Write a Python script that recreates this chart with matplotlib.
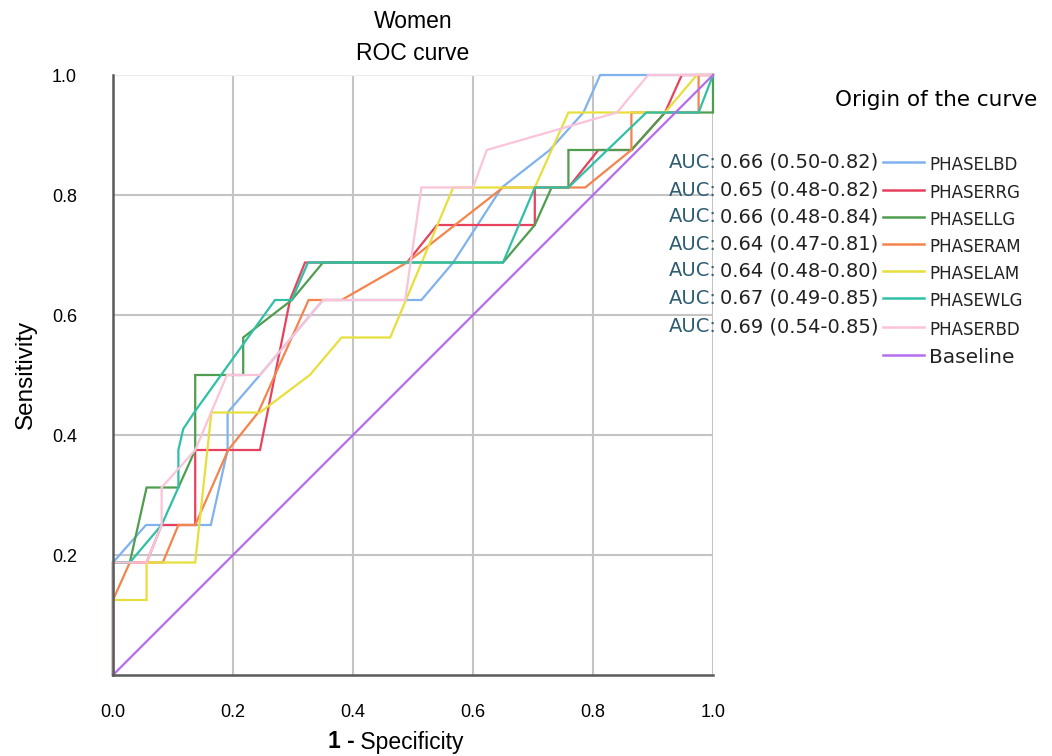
import matplotlib
matplotlib.use("Agg")
import matplotlib.pyplot as plt
from matplotlib.lines import Line2D

# ROC curve coordinates (1 - specificity, sensitivity)
lbd_fpr = [0, 0, 0.055, 0.163, 0.191, 0.191, 0.245, 0.35, 0.514, 0.567, 0.648, 0.728, 0.784, 0.812, 1.0]
lbd_tpr = [0, 0.1875, 0.25, 0.25, 0.375, 0.4375, 0.5, 0.625, 0.625, 0.6875, 0.8125, 0.875, 0.9375, 1.0, 1.0]

rrg_fpr = [0, 0, 0.056, 0.081, 0.137, 0.137, 0.245, 0.295, 0.32, 0.49, 0.54, 0.703, 0.703, 0.759, 0.809, 0.864, 0.92, 0.948, 1.0]
rrg_tpr = [0, 0.1875, 0.1875, 0.25, 0.25, 0.375, 0.375, 0.625, 0.6875, 0.6875, 0.75, 0.75, 0.8125, 0.8125, 0.875, 0.875, 0.9375, 1.0, 1.0]

llg_fpr = [0, 0, 0.028, 0.056, 0.109, 0.137, 0.137, 0.217, 0.217, 0.298, 0.35, 0.65, 0.703, 0.731, 0.759, 0.759, 0.864, 0.92, 1.0, 1.0]
llg_tpr = [0, 0.1875, 0.1875, 0.3125, 0.3125, 0.375, 0.5, 0.5, 0.5625, 0.625, 0.6875, 0.6875, 0.75, 0.8125, 0.8125, 0.875, 0.875, 0.9375, 0.9375, 1.0]

ram_fpr = [0, 0, 0.028, 0.083, 0.109, 0.137, 0.192, 0.242, 0.326, 0.381, 0.49, 0.65, 0.787, 0.864, 0.864, 0.976, 0.976, 1.0]
ram_tpr = [0, 0.125, 0.1875, 0.1875, 0.25, 0.25, 0.375, 0.4375, 0.625, 0.625, 0.6875, 0.8125, 0.8125, 0.875, 0.9375, 0.9375, 1.0, 1.0]

lam_fpr = [0, 0, 0.056, 0.056, 0.137, 0.164, 0.245, 0.328, 0.381, 0.462, 0.567, 0.703, 0.759, 0.92, 0.973, 1.0]
lam_tpr = [0, 0.125, 0.125, 0.1875, 0.1875, 0.4375, 0.4375, 0.5, 0.5625, 0.5625, 0.8125, 0.8125, 0.9375, 0.9375, 1.0, 1.0]

wlg_fpr = [0, 0, 0.028, 0.081, 0.109, 0.109, 0.117, 0.137, 0.27, 0.298, 0.325, 0.65, 0.703, 0.759, 0.889, 0.976, 1.0]
wlg_tpr = [0, 0.1875, 0.1875, 0.25, 0.3125, 0.375, 0.41, 0.44, 0.625, 0.625, 0.6875, 0.6875, 0.8125, 0.8125, 0.9375, 0.9375, 1.0]

rbd_fpr = [0, 0, 0.056, 0.081, 0.081, 0.137, 0.19, 0.245, 0.35, 0.487, 0.514, 0.6, 0.623, 0.84, 0.892, 1.0]
rbd_tpr = [0, 0.1875, 0.1875, 0.25, 0.3125, 0.375, 0.5, 0.5, 0.625, 0.625, 0.8125, 0.8125, 0.875, 0.9375, 1.0, 1.0]

base_fpr = [0, 1]
base_tpr = [0, 1]

curve_names = ["PHASELBD", "PHASERRG", "PHASELLG", "PHASERAM", "PHASELAM", "PHASEWLG", "PHASERBD", "Baseline"]
auc_values = ["0.66 (0.50-0.82)", "0.65 (0.48-0.82)", "0.66 (0.48-0.84)", "0.64 (0.47-0.81)",
              "0.64 (0.48-0.80)", "0.67 (0.49-0.85)", "0.69 (0.54-0.85)"]
x_ticks = [0.0, 0.2, 0.4, 0.6, 0.8, 1.0]
y_ticks = [0.2, 0.4, 0.6, 0.8, 1.0]

colors = ["#7fb2ef", "#e8415e", "#4f9d4f", "#f5844c", "#e6df3c", "#2fc0a6", "#fbc3da", "#b56cf0"]
curves = [(lbd_fpr, lbd_tpr), (rrg_fpr, rrg_tpr), (llg_fpr, llg_tpr), (ram_fpr, ram_tpr),
          (lam_fpr, lam_tpr), (wlg_fpr, wlg_tpr), (rbd_fpr, rbd_tpr), (base_fpr, base_tpr)]

W, H = 1052, 756
fig = plt.figure(figsize=(W / 100, H / 100), dpi=100)
ax = fig.add_axes([113 / W, 1 - 675 / H, 600 / W, 600 / H])

def fx(px):
    return px / W

def fy(py):
    return 1 - py / H

# grid
for v in x_ticks[1:]:
    ax.axvline(v, color="#c4c4c4", lw=1.5, zorder=0)
for v in y_ticks[:-1]:
    ax.axhline(v, color="#c4c4c4", lw=1.5, zorder=0)
ax.axhline(1.0, color="#ececec", lw=1.0, zorder=0)

for (xs, ys), c in zip(curves, colors):
    ax.plot(xs, ys, color=c, lw=1.6, zorder=2, solid_joinstyle="miter", clip_on=False)

ax.set_xlim(0, 1)
ax.set_ylim(0, 1)
for s in ["top", "right"]:
    ax.spines[s].set_visible(False)
for s in ["left", "bottom"]:
    ax.spines[s].set_color("#5a5a5a")
    ax.spines[s].set_linewidth(1.8)
ax.set_xticks(x_ticks)
ax.set_yticks(y_ticks)
ax.set_xticklabels([f"{v:.1f}" for v in x_ticks], fontsize=13, family="Liberation Sans")
ax.set_yticklabels([f"{v:.1f}" for v in y_ticks], fontsize=13, family="Liberation Sans")
ax.tick_params(axis="both", length=0)
ax.tick_params(axis="x", pad=21)
ax.tick_params(axis="y", pad=26)

# titles and axis labels
fig.text(fx(413), fy(21), "Women", ha="center", va="center", fontsize=16.5, family="Liberation Sans")
fig.text(fx(413), fy(53), "ROC curve", ha="center", va="center", fontsize=16.5, family="Liberation Sans")
fig.text(fx(26), fy(374), "Sensitivity", ha="center", va="center", rotation=90, fontsize=17.5,
         family="Liberation Sans")
fig.text(fx(355), fy(742), "1 -", ha="right", va="center", fontsize=16.5, fontweight="bold",
         family="Liberation Sans")
fig.text(fx(354), fy(743), " Specificity", ha="left", va="center", fontsize=16.5, family="Liberation Sans")

# legend
fig.text(fx(936), fy(100), "Origin of the curve", ha="center", va="center", fontsize=15.5,
         family="DejaVu Sans")
entry_y = [162, 190, 217, 244, 271, 298, 327, 355]
for i, (name, c) in enumerate(zip(curve_names, colors)):
    yy = entry_y[i]
    fig.add_artist(Line2D([fx(883), fx(924)], [fy(yy), fy(yy)], color=c, lw=1.8))
    fs = 14.5 if name == "Baseline" else 12
    fig.text(fx(929), fy(yy + 3), name, ha="left", va="center", fontsize=fs, family="DejaVu Sans",
             color="#222222")
    if i < len(auc_values):
        t = fig.text(fx(878), fy(yy), auc_values[i], ha="right", va="center", fontsize=14,
                     family="DejaVu Sans", color="#222222")
        fig.canvas.draw()
        bb = t.get_window_extent()
        fig.text(bb.x0 / W - 0.003, fy(yy), "AUC:", ha="right", va="center", fontsize=14,
                 family="DejaVu Sans", color="#2c5d73")

fig.savefig("out.png", dpi=100)
